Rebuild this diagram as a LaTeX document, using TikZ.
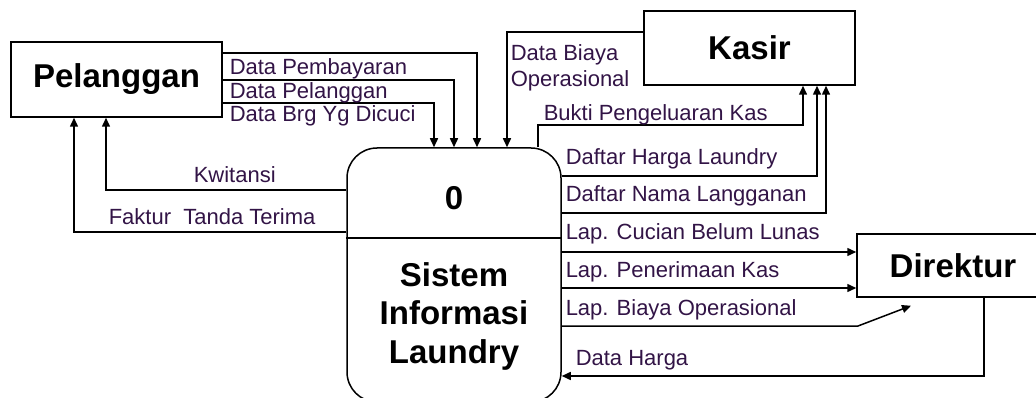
\documentclass[tikz,border=0pt]{standalone}
\usepackage{fontspec}
\setmainfont{Liberation Sans}
\usepackage{xcolor}
\usetikzlibrary{arrows.meta, positioning, calc}
\definecolor{lblcol}{RGB}{50,20,70}

\begin{document}
\begin{tikzpicture}[
        x=1pt, y=-1pt,
        line width=1.5pt,
        entity/.style={rectangle, draw, inner sep=0pt, font=\fontsize{33}{38}\selectfont\bfseries},
        proc/.style={rectangle, draw, rounded corners=30pt, minimum width=214pt, minimum height=254pt, inner sep=0pt},
        flow/.style={-{Triangle[length=9pt,width=8pt]}},
        lbl/.style={anchor=base west, inner sep=0pt, text=lblcol, font=\fontsize{22}{26}\selectfont}
    ]
        \useasboundingbox (0,0) rectangle (1036,398);

        % Entities and process
        \node[entity, minimum width=211pt, minimum height=75pt] (pelanggan) at (116.5,79.5) {Pelanggan};
        \node[entity, minimum width=211pt, minimum height=74pt] (kasir) at (749.5,48) {Kasir};
        \node[entity, minimum width=192pt, minimum height=63pt] (direktur) at (953,265.5) {Direktur};
        \node[proc] (proses) at (454,275) {};
        \draw (proses.west |- 0,238) -- (proses.east |- 0,238);
        \node[font=\fontsize{33}{38}\selectfont\bfseries] (nomor) at (454,198) {0};
        \node[font=\fontsize{33}{38.5}\selectfont\bfseries, align=center] (nama) at (454,316) {Sistem\\Informasi\\Laundry};

        % Pelanggan -> proses
        \draw[flow] (pelanggan.east |- 0,53) -| (proses.north -| 477,0);
        \draw[flow] (pelanggan.east |- 0,80) -| (proses.north -| 454,0);
        \draw[flow] (pelanggan.east |- 0,103) -| (proses.north -| 434,0);
        \node[lbl] (lblbayar) at (229,75) {Data Pembayaran};
        \node[lbl] (lblplg) at (229,99) {Data Pelanggan};
        \node[lbl] (lblbrg) at (229,122) {Data Brg Yg Dicuci};

        % Proses -> pelanggan
        \draw[flow] (proses.west |- 0,190) -| (pelanggan.south -| 106,0);
        \draw[flow] (proses.west |- 0,232) -| (pelanggan.south -| 74,0);
        \node[lbl] (lblkwt) at (193,183) {Kwitansi};
        \node[lbl] (lblfaktur) at (108,225) {Faktur\ \ Tanda Terima};

        % Kasir <-> proses
        \draw[flow] (kasir.west |- 0,32) -| (proses.north -| 507,0);
        \node[lbl, align=left, anchor=north west] (lblbiaya) at (510,44) {Data Biaya\\Operasional};
        \draw[flow] (proses.north -| 538,0) |- (0,125 -| 803,0) -- (kasir.south -| 803,0);
        \draw[flow] (proses.east |- 0,176) -| (kasir.south -| 817,0);
        \draw[flow] (proses.east |- 0,213) -| (kasir.south -| 826,0);
        \node[lbl] (lblbukti) at (543,121) {Bukti Pengeluaran Kas};
        \node[lbl] (lblharga) at (565,165) {Daftar Harga Laundry};
        \node[lbl] (lblnama) at (565,202) {Daftar Nama Langganan};

        % Proses <-> direktur
        \draw[flow] (proses.east |- 0,252) -- (direktur.west |- 0,252);
        \draw[flow] (proses.east |- 0,288) -- (direktur.west |- 0,288);
        \coordinate (tekuk) at (858,326);
        \draw[flow] (proses.east |- 0,326) -- (tekuk) -- ($(direktur.south -| 911,0)+(0,8)$);
        \draw[flow] (direktur.south -| 984,0) |- (proses.east |- 0,376);
        \node[lbl] (lblcucian) at (565,240) {Lap. Cucian Belum Lunas};
        \node[lbl] (lblterima) at (565,277) {Lap. Penerimaan Kas};
        \node[lbl] (lbloperasi) at (565,315) {Lap. Biaya Operasional};
        \node[lbl] (lbldata) at (575,365) {Data Harga};

    \end{tikzpicture}
\end{document}
